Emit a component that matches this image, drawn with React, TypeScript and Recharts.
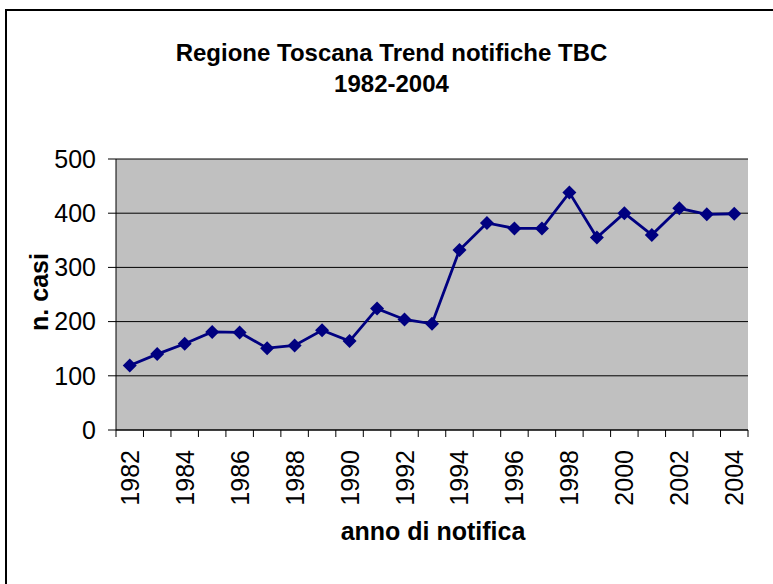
import React from 'react';
import { LineChart, Line, XAxis, YAxis, CartesianGrid } from 'recharts';

const years = [
  '1982', '1983', '1984', '1985', '1986', '1987', '1988', '1989', '1990', '1991', '1992', '1993',
  '1994', '1995', '1996', '1997', '1998', '1999', '2000', '2001', '2002', '2003', '2004',
];
const cases = [119, 140, 159, 181, 180, 151, 156, 184, 164, 224, 204, 196, 332, 382, 372, 372, 438, 355, 400, 360, 409, 398, 399];
const yTicks = [0, 100, 200, 300, 400, 500];

const data = years.map((year, i) => ({ year, cases: cases[i] }));

const font = '"Liberation Sans", Arial, sans-serif';

function YearTick(props: any) {
  const { x, y, payload } = props;
  const i = years.indexOf(String(payload.value));
  const half = payload.offset || 13.74;
  return (
    <g>
      <line x1={x - half} x2={x - half} y1={y} y2={y + 7} stroke="#000" />
      {i === years.length - 1 && <line x1={x + half} x2={x + half} y1={y} y2={y + 7} stroke="#000" />}
      {i % 2 === 0 && (
        <text
          transform={`translate(${x},${y + 20}) rotate(-90)`}
          textAnchor="end"
          dy="0.36em"
          fontSize={25}
          fontFamily={font}
          fill="#000"
        >
          {payload.value}
        </text>
      )}
    </g>
  );
}

function Diamond(props: any) {
  const { cx, cy } = props;
  if (cx == null || cy == null) return null;
  const r = 7;
  return <path d={`M${cx},${cy - r}L${cx + r},${cy}L${cx},${cy + r}L${cx - r},${cy}Z`} fill="#000080" />;
}

export default function App() {
  return (
    <div style={{ position: 'absolute', left: 0, top: 0, width: 773, height: 584, background: '#fff', overflow: 'hidden', fontFamily: font }}>
      <div style={{ position: 'absolute', left: 5, top: 9, width: 900, height: 700, borderLeft: '2px solid #000', borderTop: '2px solid #000' }} />
      <div style={{ position: 'absolute', left: 0, top: 37, width: 783, textAlign: 'center', fontWeight: 'bold', fontSize: 24, lineHeight: '31px', color: '#000' }}>
        Regione Toscana Trend notifiche TBC
        <br />
        1982-2004
      </div>
      <LineChart width={773} height={584} data={data} margin={{ top: 159, right: 25, bottom: 54, left: 56 }}>
        <CartesianGrid vertical={false} stroke="#000" fill="#c0c0c0" fillOpacity={1} />
        <XAxis
          dataKey="year"
          scale="band"
          interval={0}
          height={100}
          tickSize={0}
          tickMargin={0}
          tickLine={false}
          axisLine={{ stroke: '#000' }}
          tick={<YearTick />}
        />
        <XAxis xAxisId="top" orientation="top" dataKey="year" scale="band" height={0} tick={false} tickLine={false} axisLine={{ stroke: '#808080', strokeWidth: 2 }} />
        <YAxis
          domain={[0, 500]}
          ticks={yTicks}
          width={60}
          tickSize={8}
          tickMargin={12}
          tickLine={{ stroke: '#000' }}
          axisLine={{ stroke: '#000' }}
          tick={{ fontSize: 25, fill: '#000', fontFamily: font }}
        />
        <YAxis yAxisId="right" orientation="right" domain={[0, 500]} width={0} tick={false} tickLine={false} axisLine={{ stroke: '#808080', strokeWidth: 3 }} />
        <Line
          dataKey="cases"
          type="linear"
          stroke="#000080"
          strokeWidth={2.8}
          dot={<Diamond />}
          activeDot={false}
          isAnimationActive={false}
        />
      </LineChart>
      <div style={{ position: 'absolute', left: 233, top: 516, width: 400, textAlign: 'center', fontWeight: 'bold', fontSize: 25, lineHeight: '30px', color: '#000' }}>
        anno di notifica
      </div>
      <div style={{ position: 'absolute', left: 38.5, top: 292, transform: 'translate(-50%, -50%) rotate(-90deg)', fontWeight: 'bold', fontSize: 25, lineHeight: '25px', whiteSpace: 'nowrap', color: '#000' }}>
        n. casi
      </div>
    </div>
  );
}
